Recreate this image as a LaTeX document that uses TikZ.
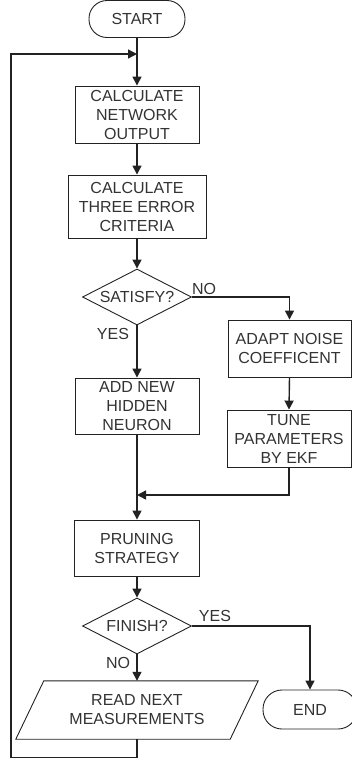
\documentclass[tikz,border=0pt]{standalone}
\usepackage{fontspec}
\setmainfont{Liberation Sans}
\usetikzlibrary{shapes.geometric,arrows.meta}
\definecolor{ink}{HTML}{222222}
\definecolor{txt}{HTML}{333333}
\tikzset{
  base/.style={draw=ink, line width=0.9pt, text=txt, align=center, inner sep=0pt,
    font=\fontsize{16}{19}\selectfont},
  procbox/.style={base, rectangle},
  term/.style={base, rectangle, rounded corners=18pt},
  decide/.style={base, diamond, aspect=2},
  flow/.style={draw=ink, line width=1.4pt, -{Triangle[length=9pt,width=9pt]}},
  plain/.style={draw=ink, line width=1.4pt},
  lbl/.style={text=txt, font=\fontsize{16}{19}\selectfont, inner sep=0pt}
}
\begin{document}
\begin{tikzpicture}[x=1pt,y=-1pt]
\useasboundingbox (0,0) rectangle (352,761);

% nodes
\node[term, minimum width=96pt, minimum height=37pt] (start) at (137,19) {START};
\node[procbox, minimum width=124pt, minimum height=57pt] (calc1) at (137,114.5) {CALCULATE\\NETWORK\\OUTPUT};
\node[procbox, minimum width=138pt, minimum height=63pt] (calc2) at (137,206.5) {CALCULATE\\THREE ERROR\\CRITERIA};
\node[decide, minimum width=109pt, minimum height=56pt] (sat) at (137,297) {SATISFY?};
\node[procbox, minimum width=123pt, minimum height=57pt] (adapt) at (289.5,348.5) {ADAPT NOISE\\COEFFICENT};
\node[procbox, minimum width=124pt, minimum height=57pt] (tune) at (289,438.5) {TUNE\\PARAMETERS\\BY EKF};
\node[procbox, minimum width=124pt, minimum height=56pt] (add) at (137,406) {ADD NEW\\HIDDEN\\NEURON};
\node[procbox, minimum width=125pt, minimum height=56pt] (prune) at (137,548) {PRUNING\\STRATEGY};
\node[decide, minimum width=109pt, minimum height=56pt] (fin) at (137,626) {FINISH?};
\node[term, minimum width=94pt, minimum height=39pt, rounded corners=19pt] (stop) at (310,709.5) {END};

% input/output parallelogram
\node[lbl, align=center, minimum width=214pt, minimum height=58pt] (read) at (137,710) {READ NEXT\\MEASUREMENTS};
\draw[draw=ink, line width=0.9pt] ([xshift=14pt]read.north west) -- ([xshift=14pt]read.north east)
  -- ([xshift=-14pt]read.south east) -- ([xshift=-14pt]read.south west) -- cycle;

% helper points
\coordinate (join) at (137,54);
\coordinate (merge) at (137,495);

% connectors
\draw[flow] (start.south) -- (calc1.north);
\draw[flow] (calc1.south) -- (calc2.north);
\draw[flow] (calc2.south) -- (sat.north);
\draw[flow] (sat.east) -| (adapt.north);
\draw[flow] (sat.south) -- (add.north);
\draw[flow] (adapt.south) -- (tune.north);
\draw[flow] (add.south) -- (prune.north);
\draw[flow] (tune.south) |- (merge);
\draw[flow] (prune.south) -- (fin.north);
\draw[flow] (fin.east) -| (stop.north);
\draw[flow] (fin.south) -- (read.north);
\draw[flow] (read.south) -- ++(0,18) -| (11,54) -- (join);

% branch labels
\node[lbl] (satno) at (204,289) {NO};
\node[lbl] (satyes) at (113,334) {YES};
\node[lbl] (finyes) at (215,616) {YES};
\node[lbl] (finno) at (118,663) {NO};
\end{tikzpicture}
\end{document}
